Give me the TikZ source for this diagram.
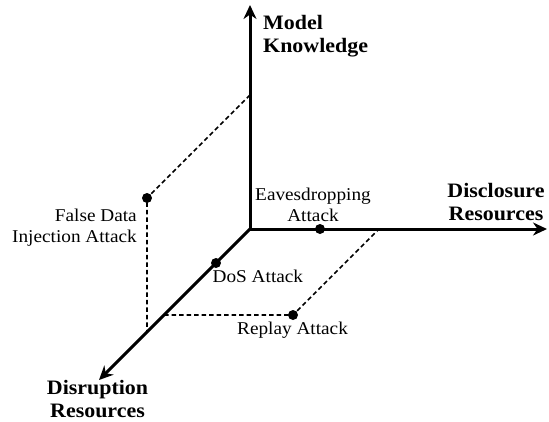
\documentclass[tikz,border=0pt]{standalone}
\usepackage{fontspec}
\setmainfont{Liberation Serif}[FakeStretch=1.07]
\usetikzlibrary{arrows.meta}
\begin{document}
\begin{tikzpicture}[x=1pt,y=-1pt,
  axis/.style={line width=3pt, -{Stealth[length=14pt,width=13pt,inset=4.5pt]}},
  guide/.style={line width=1.6pt, dash pattern=on 4.5pt off 3pt},
  dot/.style={circle, fill=black, inner sep=0pt, minimum size=10pt},
  lbl/.style={font=\fontsize{18}{21}\selectfont, inner sep=0pt},
  ttl/.style={font=\fontsize{20.5}{23.5}\selectfont\bfseries, inner sep=0pt}]
\useasboundingbox (0,0) rectangle (549,421);
% axes
\coordinate (O) at (250,229);
\coordinate (zt) at (250,5);
\coordinate (xt) at (547,229);
\coordinate (yt) at (99,380);
\draw[axis] (O) -- (zt);
\draw[axis] (O) -- (xt);
\draw[axis] (O) -- (yt);
% projection guides
\coordinate (zk) at (250,95);
\coordinate (fdf) at (147,332);
\coordinate (rd) at (164,315);
\coordinate (rx) at (379,229);
\node[dot] (fdi) at (147,198) {};
\node[dot] (rep) at (293,315) {};
\node[dot] (eav) at (320,229) {};
\node[dot] (dos) at (216,263) {};
\draw[guide] (zk) -- (fdi.center) -- (fdf);
\draw[guide] (rd) -- (rep.center) -- (rx);
% axis titles
\node[ttl, align=left, anchor=north west] (tz) at (263,15) {Model\\Knowledge};
\node[ttl, align=center, anchor=north] (tx) at (496,183) {Disclosure\\Resources};
\node[ttl, align=center, anchor=north] (ty) at (97.5,380) {Disruption\\Resources};
% attack labels
\node[lbl, align=center, anchor=north] (leav) at (313,187.7) {Eavesdropping\\Attack};
\node[lbl, align=right, anchor=north east] (lfdi) at (137,208.4) {False Data\\Injection Attack};
\node[lbl, anchor=base west] (ldos) at (212.5,282.7) {DoS Attack};
\node[lbl, anchor=base west] (lrep) at (237,334) {Replay Attack};
\end{tikzpicture}
\end{document}
